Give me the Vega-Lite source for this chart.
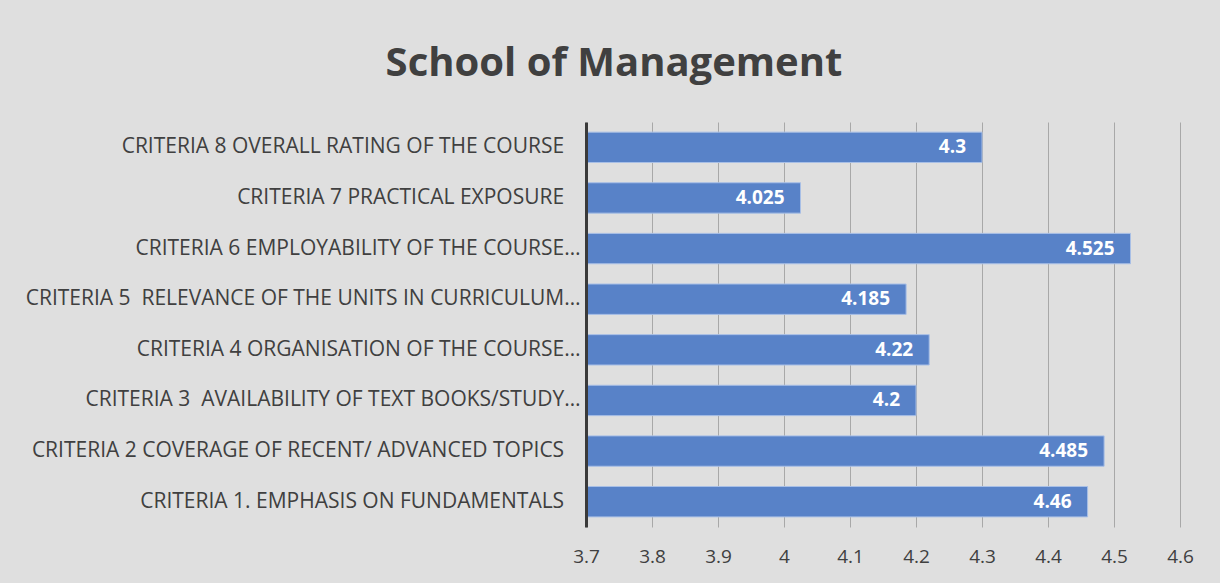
{
  "$schema": "https://vega.github.io/schema/vega-lite/v6.json",
  "autosize": "none",
  "width": 594,
  "height": 405,
  "padding": {"left": 586, "top": 122, "right": 40, "bottom": 56},
  "background": "#dfdfdf",
  "title": {
    "text": "School of Management",
    "font": "Open Sans",
    "fontSize": 40,
    "fontWeight": "bold",
    "color": "#404040",
    "anchor": "middle",
    "frame": "group",
    "dx": -269,
    "offset": 38
  },
  "data": {
    "values": [
      {"criteria": "CRITERIA 8 OVERALL RATING OF THE COURSE\u00a0\u00a0\u00a0\u200d", "score": 4.3, "label": "4.3"},
      {"criteria": "CRITERIA 7 PRACTICAL EXPOSURE\u00a0\u00a0\u00a0\u200d", "score": 4.025, "label": "4.025"},
      {"criteria": "CRITERIA 6 EMPLOYABILITY OF THE COURSE…", "score": 4.525, "label": "4.525"},
      {"criteria": "CRITERIA 5 \u00a0RELEVANCE OF THE UNITS IN CURRICULUM…", "score": 4.185, "label": "4.185"},
      {"criteria": "CRITERIA 4 ORGANISATION OF THE COURSE…", "score": 4.22, "label": "4.22"},
      {"criteria": "CRITERIA 3 \u00a0AVAILABILITY OF TEXT BOOKS/STUDY…", "score": 4.2, "label": "4.2"},
      {"criteria": "CRITERIA 2 COVERAGE OF RECENT/ ADVANCED TOPICS\u00a0\u00a0\u00a0\u200d", "score": 4.485, "label": "4.485"},
      {"criteria": "CRITERIA 1. EMPHASIS ON FUNDAMENTALS\u00a0\u00a0\u00a0\u200d", "score": 4.46, "label": "4.46"}
    ]
  },
  "encoding": {
    "y": {
      "field": "criteria",
      "type": "nominal",
      "sort": null,
      "title": null,
      "scale": {"paddingInner": 0.4, "paddingOuter": 0.2},
      "axis": {
        "domain": true,
        "domainColor": "#3a3a3a",
        "domainWidth": 3,
        "ticks": false,
        "grid": false,
        "labelFont": "Open Sans",
        "labelFontSize": 21,
        "labelColor": "#404040",
        "labelPadding": 6,
        "labelLimit": 700,
        "zindex": 1
      }
    },
    "x": {
      "field": "score",
      "type": "quantitative",
      "title": null,
      "scale": {"domain": [3.7, 4.6], "zero": false, "nice": false},
      "axis": {
        "values": [3.7, 3.8, 3.9, 4.0, 4.1, 4.2, 4.3, 4.4, 4.5, 4.6],
        "format": ".1~f",
        "domain": false,
        "ticks": false,
        "grid": true,
        "gridColor": "#a8a8a8",
        "gridWidth": 1,
        "labelFont": "Open Sans",
        "labelFontSize": 19,
        "labelColor": "#404040",
        "labelPadding": 20,
        "labelFlush": false
      }
    }
  },
  "layer": [
    {
      "mark": {"type": "bar", "color": "#5882c8", "stroke": "#a8bfe6", "strokeWidth": 1},
      "encoding": {"x2": {"datum": 3.7}}
    },
    {
      "mark": {
        "type": "text",
        "align": "right",
        "baseline": "middle",
        "dx": -16,
        "font": "Open Sans",
        "fontSize": 19,
        "fontWeight": "bold",
        "color": "white"
      },
      "encoding": {"text": {"field": "label"}}
    }
  ],
  "config": {"view": {"stroke": null}}
}
